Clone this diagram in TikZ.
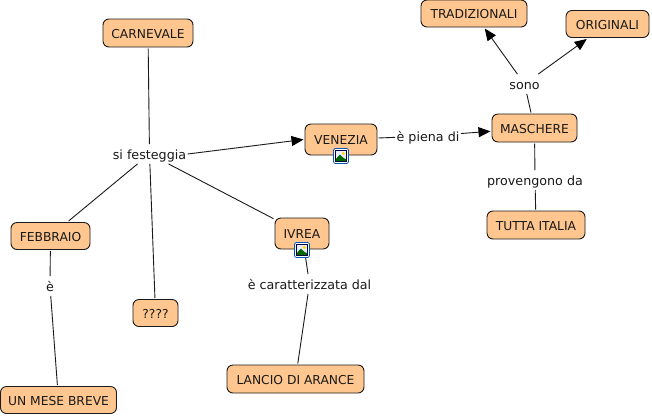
\documentclass[tikz,border=0pt]{standalone}
\usepackage{fontspec}
\setmainfont{DejaVu Sans}
\usetikzlibrary{arrows.meta}
\definecolor{cpeach}{HTML}{FFC78F}
\definecolor{cedge}{HTML}{1A1A1A}
\tikzset{
  concept/.style={draw=cedge,line width=0.9pt,fill=cpeach,rounded corners=6pt,minimum height=#1,inner sep=0pt,outer sep=1.5pt,font=\fontsize{12.3}{14}\selectfont,text=black!90,text height=10.8pt,text depth=0pt},
  concept/.default=28pt,
  linklabel/.style={inner sep=0pt,outer xsep=1.5pt,outer ysep=4.5pt,font=\fontsize{12.7}{14}\selectfont,text=black!90,text height=10.8pt,text depth=0pt},
  link/.style={draw=cedge,line width=0.9pt},
  arrowlink/.style={link,-{Triangle[length=12pt,width=10pt,color=black]}},
}
\newcommand{\picicon}[2]{%
  \begin{scope}[shift={(#1,#2)}]
    \fill[white,draw=blue!55!cyan!75!black,line width=0.8pt,rounded corners=2pt] (-7.5,-7.5) rectangle (7.5,7.5);
    \fill[blue!8,draw=black!75!blue,line width=0.8pt] (-5.5,-5.5) rectangle (5.5,5.5);
    \fill[yellow!80!orange] (2.2,-2.6) circle (1.7pt);
    \fill[green!40!black] (-5,5) -- (-5,2.8) -- (-1,-1.5) -- (2,1.5) -- (5,3.4) -- (5,5) -- cycle;
  \end{scope}}
\begin{document}
\begin{tikzpicture}[x=1pt,y=-1pt]
\useasboundingbox (0,0) rectangle (652,416);
\fill[white] (0,0) rectangle (652,416);
\node[concept,minimum width=90pt] (carn) at (148,33) {CARNEVALE};
\node[concept=31pt,minimum width=72pt] (ven) at (341,139.5) {VENEZIA};
\node[concept=31pt,minimum width=54pt] (ivr) at (302,233.5) {IVREA};
\node[concept,minimum width=85pt] (mas) at (534.5,128) {MASCHERE};
\node[concept=27pt,minimum width=106pt] (tra) at (474,13.5) {TRADIZIONALI};
\node[concept=27pt,minimum width=83pt] (ori) at (607.5,24) {ORIGINALI};
\node[concept,minimum width=98pt] (tut) at (536,225) {TUTTA ITALIA};
\node[concept=27pt,minimum width=79pt] (feb) at (50.5,236) {FEBBRAIO};
\node[concept=27pt,minimum width=45pt] (unk) at (155.5,313) {????};
\node[concept=27pt,minimum width=116pt] (mes) at (58.5,400) {UN MESE BREVE};
\node[concept,minimum width=137pt] (lan) at (295.5,379) {LANCIO DI ARANCE};
\node[linklabel] (si) at (149.5,154) {si festeggia};
\node[linklabel] (pie) at (428,136) {è piena di};
\node[linklabel] (son) at (524.5,84) {sono};
\node[linklabel] (pro) at (535,180) {provengono da};
\node[linklabel] (e) at (50,286) {è};
\node[linklabel] (car) at (309.5,284) {è caratterizzata dal};
\draw[link] (carn) -- (si);
\draw[arrowlink] (si.east) -- (ven.west);
\draw[link] (si) -- (feb);
\draw[link] (si) -- (unk);
\draw[link] (si) -- (ivr);
\draw[link] (ven) -- (pie);
\draw[arrowlink] (pie) -- (mas);
\draw[link] (mas) -- (son);
\draw[arrowlink] (son) -- (tra);
\draw[arrowlink] (son) -- (ori);
\draw[link] (mas) -- (pro);
\draw[link] (pro) -- (tut);
\draw[link] (feb) -- (e);
\draw[link] (e) -- (mes);
\draw[link] (ivr) -- (car);
\draw[link] (car) -- (lan);
\picicon{341}{156}
\picicon{302}{250}
\end{tikzpicture}
\end{document}
